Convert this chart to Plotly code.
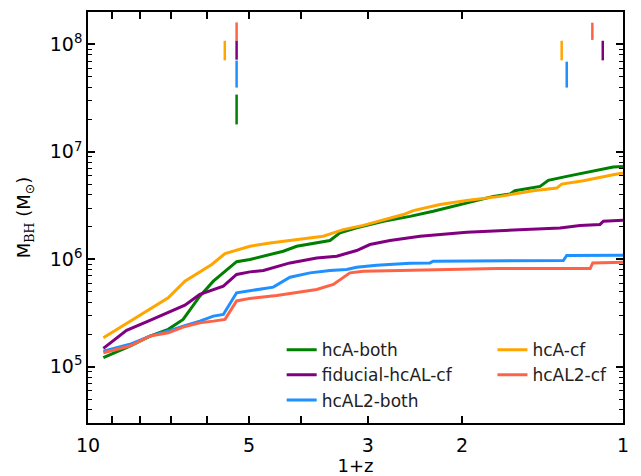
import plotly.graph_objects as go

# ---- data (1+z, M_BH in Msun) ----
hcA_both_x = [9.36, 8.35, 7.66, 7.08, 6.64, 6.18, 5.83, 5.545, 5.275, 4.98, 4.315, 4.073, 3.53, 3.381, 3.147,
              2.805, 2.501, 2.263, 1.959, 1.747, 1.626, 1.592, 1.429, 1.399, 1.379, 1.274, 1.169, 1.043, 1.0]
hcA_both_y = [1.215e5, 1.56e5, 1.93e5, 2.23e5, 2.76e5, 4.54e5, 6.26e5, 7.75e5, 9.5e5, 9.96e5, 1.189e6, 1.323e6,
              1.495e6, 1.76e6, 1.96e6, 2.26e6, 2.51e6, 2.80e6, 3.34e6, 3.85e6, 4.05e6, 4.35e6, 4.77e6, 5.12e6,
              5.43e6, 5.91e6, 6.44e6, 7.21e6, 7.32e6]

fid_x = [9.36, 8.47, 7.716, 7.08, 6.59, 6.18, 5.83, 5.585, 5.275, 4.98, 4.70, 4.192, 3.737, 3.428, 3.147,
         2.972, 2.726, 2.501, 2.395, 1.959, 1.58, 1.311, 1.203, 1.104, 1.088, 1.0]
fid_y = [1.485e5, 2.18e5, 2.66e5, 3.18e5, 3.75e5, 4.71e5, 5.24e5, 5.63e5, 7.23e5, 7.64e5, 7.87e5, 9.26e5,
         1.03e6, 1.069e6, 1.207e6, 1.372e6, 1.495e6, 1.60e6, 1.64e6, 1.785e6, 1.89e6, 1.96e6, 2.06e6,
         2.11e6, 2.26e6, 2.31e6]

hcAL2_both_x = [9.36, 8.35, 7.66, 7.08, 6.64, 6.18, 5.83, 5.585, 5.275, 4.98, 4.504, 4.192, 3.846, 3.53,
                3.285, 3.147, 2.887, 2.501, 2.295, 2.263, 1.293, 1.274, 1.0]
hcAL2_both_y = [1.40e5, 1.62e5, 1.93e5, 2.15e5, 2.39e5, 2.66e5, 2.96e5, 3.07e5, 4.88e5, 5.13e5, 5.51e5,
                6.82e5, 7.48e5, 7.87e5, 8.04e5, 8.45e5, 8.81e5, 9.20e5, 9.26e5, 9.60e5, 9.75e5, 1.085e6,
                1.092e6]

hcA_cf_x = [9.36, 7.66, 7.08, 6.59, 5.87, 5.545, 4.98, 4.568, 4.073, 3.633, 3.479, 3.333, 3.058, 2.805,
            2.574, 2.466, 2.198, 1.959, 1.698, 1.472, 1.33, 1.302, 1.186, 1.043, 1.0]
hcA_cf_y = [1.86e5, 3.42e5, 4.38e5, 6.26e5, 8.95e5, 1.132e6, 1.323e6, 1.42e6, 1.527e6, 1.64e6, 1.76e6,
            1.89e6, 2.07e6, 2.34e6, 2.61e6, 2.84e6, 3.23e6, 3.52e6, 3.85e6, 4.35e6, 4.60e6, 5.01e6,
            5.39e6, 6.13e6, 6.37e6]

hcAL2_cf_x = [9.36, 8.35, 7.66, 7.08, 6.64, 6.18, 5.83, 5.545, 5.275, 4.98, 4.439, 4.073, 3.737, 3.479,
              3.333, 3.239, 3.058, 2.295, 1.722, 1.152, 1.139, 1.0]
hcAL2_cf_y = [1.35e5, 1.56e5, 1.93e5, 2.07e5, 2.34e5, 2.57e5, 2.66e5, 2.76e5, 4.1e5, 4.33e5, 4.61e5,
              4.95e5, 5.24e5, 5.83e5, 6.72e5, 7.48e5, 7.75e5, 8.04e5, 8.21e5, 8.21e5, 9.26e5, 9.40e5]

# vertical event markers: (name, 1+z, ymin, ymax)
marker_names = ["hcAL2-cf", "fiducial-hcAL-cf", "hcAL2-both", "hcA-both", "hcA-cf",
                "hcA-cf", "hcAL2-both", "hcAL2-cf", "fiducial-hcAL-cf"]
marker_x = [5.275, 5.275, 5.275, 5.275, 5.55, 1.302, 1.274, 1.141, 1.091]
marker_ylo = [1.08e8, 7.2e7, 3.96e7, 1.8e7, 7.1e7, 7.1e7, 3.96e7, 1.1e8, 7.1e7]
marker_yhi = [1.6e8, 1.08e8, 7.06e7, 3.41e7, 1.08e8, 1.08e8, 6.9e7, 1.59e8, 1.08e8]

colors = {"hcA-both": "green", "fiducial-hcAL-cf": "purple", "hcAL2-both": "dodgerblue",
          "hcA-cf": "orange", "hcAL2-cf": "tomato"}

x_tickvals = [10, 5, 3, 2, 1]
x_ticktext = ["10", "5", "3", "2", "1"]
x_minor = [9, 8, 7, 6, 4]
y_tickvals = [1e5, 1e6, 1e7, 1e8]
y_ticktext = ["10<sup>5</sup>", "10<sup>6</sup>", "10<sup>7</sup>", "10<sup>8</sup>"]
y_minor = [m * 10 ** e for e in range(4, 9) for m in range(2, 10)]

FONT = "DejaVu Sans"
fig = go.Figure()

series = [
    ("hcA-both", hcA_both_x, hcA_both_y, "legend"),
    ("fiducial-hcAL-cf", fid_x, fid_y, "legend"),
    ("hcAL2-both", hcAL2_both_x, hcAL2_both_y, "legend"),
    ("hcA-cf", hcA_cf_x, hcA_cf_y, "legend2"),
    ("hcAL2-cf", hcAL2_cf_x, hcAL2_cf_y, "legend2"),
]
for name, xs, ys, lg in series:
    fig.add_trace(go.Scatter(x=xs, y=ys, mode="lines", name=name, legend=lg,
                             line=dict(color=colors[name], width=3)))

for nm, xv, lo, hi in zip(marker_names, marker_x, marker_ylo, marker_yhi):
    fig.add_trace(go.Scatter(x=[xv, xv], y=[lo, hi], mode="lines", showlegend=False,
                             line=dict(color=colors[nm], width=2.5), hoverinfo="skip"))

axis_common = dict(showline=True, linecolor="black", linewidth=1.5, mirror="ticks",
                   ticks="inside", tickcolor="black", tickwidth=1.5, ticklen=7,
                   showgrid=False, zeroline=False,
                   tickfont=dict(family=FONT, size=19, color="black"))

fig.update_xaxes(type="log", range=[1, 0], tickvals=x_tickvals, ticktext=x_ticktext,
                 minor=dict(tickvals=x_minor, ticks="inside", ticklen=7, tickwidth=1.5, tickcolor="black"),
                 ticklabelstandoff=4,
                 title=dict(text="1+z", font=dict(family=FONT, size=18, color="black"), standoff=6),
                 **axis_common)
fig.update_yaxes(type="log", range=[4.4771, 8.30103], tickvals=y_tickvals, ticktext=y_ticktext,
                 minor=dict(tickvals=y_minor, ticks="inside", ticklen=4, tickwidth=1.2, tickcolor="black"),
                 title=dict(text="M<sub><span style=\"font-family:'DejaVu Serif'\">BH</span></sub> (M<sub>⊙</sub>)",
                            font=dict(family=FONT, size=18, color="black"), standoff=14),
                 **axis_common)

leg_common = dict(bgcolor="rgba(0,0,0,0)", borderwidth=0, font=dict(family=FONT, size=17, color="#222"),
                  xanchor="left", yanchor="top", tracegroupgap=0)
# body has an 8px default margin in the page, so the figure is sized to fit the window
fig.update_layout(
    width=633, height=468,
    margin=dict(l=80, r=18, t=2, b=53),
    paper_bgcolor="white", plot_bgcolor="white",
    legend=dict(x=0.362, y=0.221, **leg_common),
    legend2=dict(x=0.756, y=0.221, **leg_common),
    showlegend=True,
)

fig.write_html("out.html")
